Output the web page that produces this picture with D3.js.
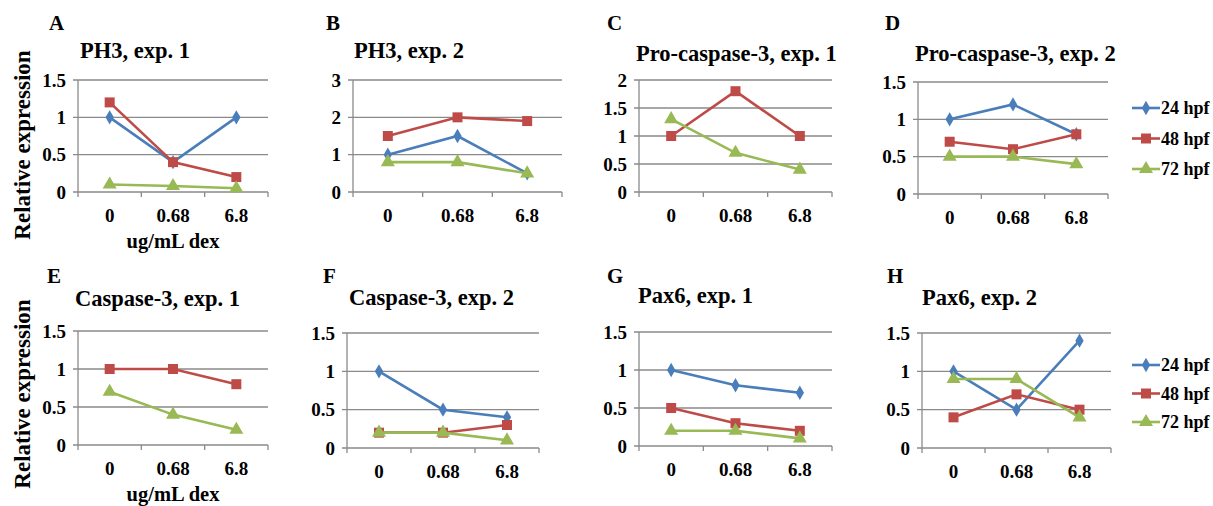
<!DOCTYPE html>
<html>
<head>
<meta charset="utf-8">
<script src="https://cdn.jsdelivr.net/npm/d3@7"></script>
<style>
  body { margin: 0; background: #fff; }
  svg text { font-family: "Liberation Serif", "Times New Roman", serif; font-weight: bold; fill: #000; }
</style>
</head>
<body>
<svg id="chart" width="1213" height="506"></svg>
<script>
'use strict';

// values
const categories = ['0', '0.68', '6.8'];
const seriesNames = ['24 hpf', '48 hpf', '72 hpf'];
const letters = ['A', 'B', 'C', 'D', 'E', 'F', 'G', 'H'];
const titles = ['PH3, exp. 1', 'PH3, exp. 2', 'Pro-caspase-3, exp. 1', 'Pro-caspase-3, exp. 2',
    'Caspase-3, exp. 1', 'Caspase-3, exp. 2', 'Pax6, exp. 1', 'Pax6, exp. 2'];
const yMax = [1.5, 3, 2, 1.5, 1.5, 1.5, 1.5, 1.5];
const yStep = [0.5, 1, 0.5, 0.5, 0.5, 0.5, 0.5, 0.5];

const hpf24 = [[1, 0.4, 1], [1, 1.5, 0.5], null, [1, 1.2, 0.8],
    null, [1, 0.5, 0.4], [1, 0.8, 0.7], [1, 0.5, 1.4]];
const hpf48 = [[1.2, 0.4, 0.2], [1.5, 2, 1.9], [1, 1.8, 1], [0.7, 0.6, 0.8],
    [1, 1, 0.8], [0.2, 0.2, 0.3], [0.5, 0.3, 0.2], [0.4, 0.7, 0.5]];
const hpf72 = [[0.1, 0.08, 0.05], [0.8, 0.8, 0.5], [1.3, 0.7, 0.4], [0.5, 0.5, 0.4],
    [0.7, 0.4, 0.2], [0.2, 0.2, 0.1], [0.2, 0.2, 0.1], [0.9, 0.9, 0.4]];

const colors = ['#4a7ebb', '#be4b48', '#98b954'];
const symbols = [d3.symbolDiamond, d3.symbolSquare, d3.symbolTriangle];
const symSizes = [60, 100, 85];

// plot boxes: left, right, top, bottom
const boxes = [
    [78, 268, 80, 192], [353, 562, 80, 192], [639, 832, 80, 192], [918, 1108, 82, 194],
    [78, 268, 331, 445], [347, 539, 333, 448], [639, 832, 332, 446], [922, 1111, 333, 448]
];
const titlePos = [[80, 58], [354, 58], [636, 61], [915, 61], [75, 306], [349, 305], [638, 303], [922, 305]];
const letterPos = [[49, 30], [326, 30], [607, 30], [885, 30], [47, 283], [323, 283], [607, 283], [887, 283]];

const svg = d3.select('#chart');

letters.forEach((letter, i) => drawPanel(i));

function drawPanel(i) {
    const [l, r, t, b] = boxes[i];
    const g = svg.append('g');

    const x = d3.scaleBand().domain(categories).range([l, r]);
    const y = d3.scaleLinear().domain([0, yMax[i]]).range([b, t]);
    const ticks = d3.range(0, yMax[i] + 1e-9, yStep[i]);

    // gridlines
    g.selectAll('.grid')
        .data(ticks)
        .enter().append('line')
        .attr('x1', l - 5).attr('x2', r)
        .attr('y1', d => y(d)).attr('y2', d => y(d))
        .attr('stroke', '#8a8a8a').attr('stroke-width', 1.3);

    g.append('line')
        .attr('x1', l).attr('x2', l).attr('y1', t).attr('y2', b)
        .attr('stroke', '#8a8a8a').attr('stroke-width', 1.3);

    // x ticks on band edges
    const edges = categories.map(c => x(c)).concat([r]);
    g.selectAll('.xt')
        .data(edges)
        .enter().append('line')
        .attr('x1', d => d).attr('x2', d => d)
        .attr('y1', b).attr('y2', b + 5)
        .attr('stroke', '#8a8a8a').attr('stroke-width', 1.3);

    g.selectAll('.ylab')
        .data(ticks)
        .enter().append('text')
        .attr('x', l - 12)
        .attr('y', d => y(d) + 6.5)
        .attr('text-anchor', 'end')
        .style('font-size', '19px')
        .text(d => d3.format('~g')(d));

    g.selectAll('.xlab')
        .data(categories)
        .enter().append('text')
        .attr('x', d => x(d) + x.bandwidth() / 2)
        .attr('y', b + 30)
        .attr('text-anchor', 'middle')
        .style('font-size', '19px')
        .text(d => d);

    g.append('text')
        .attr('x', titlePos[i][0]).attr('y', titlePos[i][1])
        .style('font-size', '22.5px')
        .text(titles[i]);

    g.append('text')
        .attr('x', letterPos[i][0]).attr('y', letterPos[i][1])
        .style('font-size', '21px')
        .text(letters[i]);

    const line = d3.line()
        .x((d, k) => x(categories[k]) + x.bandwidth() / 2)
        .y(d => y(d));

    [hpf24[i], hpf48[i], hpf72[i]].forEach((vals, s) => {
        if (!vals) return;
        g.append('path')
            .attr('d', line(vals))
            .attr('fill', 'none')
            .attr('stroke', colors[s])
            .attr('stroke-width', 2.6);
        g.selectAll('.m' + s)
            .data(vals)
            .enter().append('path')
            .attr('transform', (d, k) => `translate(${x(categories[k]) + x.bandwidth() / 2},${y(d)})`)
            .attr('d', d3.symbol().type(symbols[s]).size(symSizes[s]))
            .attr('fill', colors[s]);
    });
}

// y axis titles and x axis titles for the left column
[[22, 145], [22, 394]].forEach(p => {
    svg.append('text')
        .attr('transform', `translate(${p[0] + 8},${p[1]}) rotate(-90)`)
        .attr('text-anchor', 'middle')
        .style('font-size', '23px')
        .text('Relative expression');
});
[[173, 248], [173, 501]].forEach(p => {
    svg.append('text')
        .attr('x', p[0]).attr('y', p[1])
        .attr('text-anchor', 'middle')
        .style('font-size', '20.5px')
        .text('ug/mL dex');
});

// legends beside D and H
[[1132, 108, 30.5], [1132, 365, 28.5]].forEach(p => {
    const lg = svg.append('g');
    seriesNames.forEach((name, s) => {
        const yy = p[1] + s * p[2];
        lg.append('line')
            .attr('x1', p[0]).attr('x2', p[0] + 28)
            .attr('y1', yy).attr('y2', yy)
            .attr('stroke', colors[s]).attr('stroke-width', 2.6);
        lg.append('path')
            .attr('transform', `translate(${p[0] + 14},${yy})`)
            .attr('d', d3.symbol().type(symbols[s]).size(symSizes[s]))
            .attr('fill', colors[s]);
        lg.append('text')
            .attr('x', p[0] + 29).attr('y', yy + 6)
            .style('font-size', '18px')
            .text(name);
    });
});
</script>
</body>
</html>
